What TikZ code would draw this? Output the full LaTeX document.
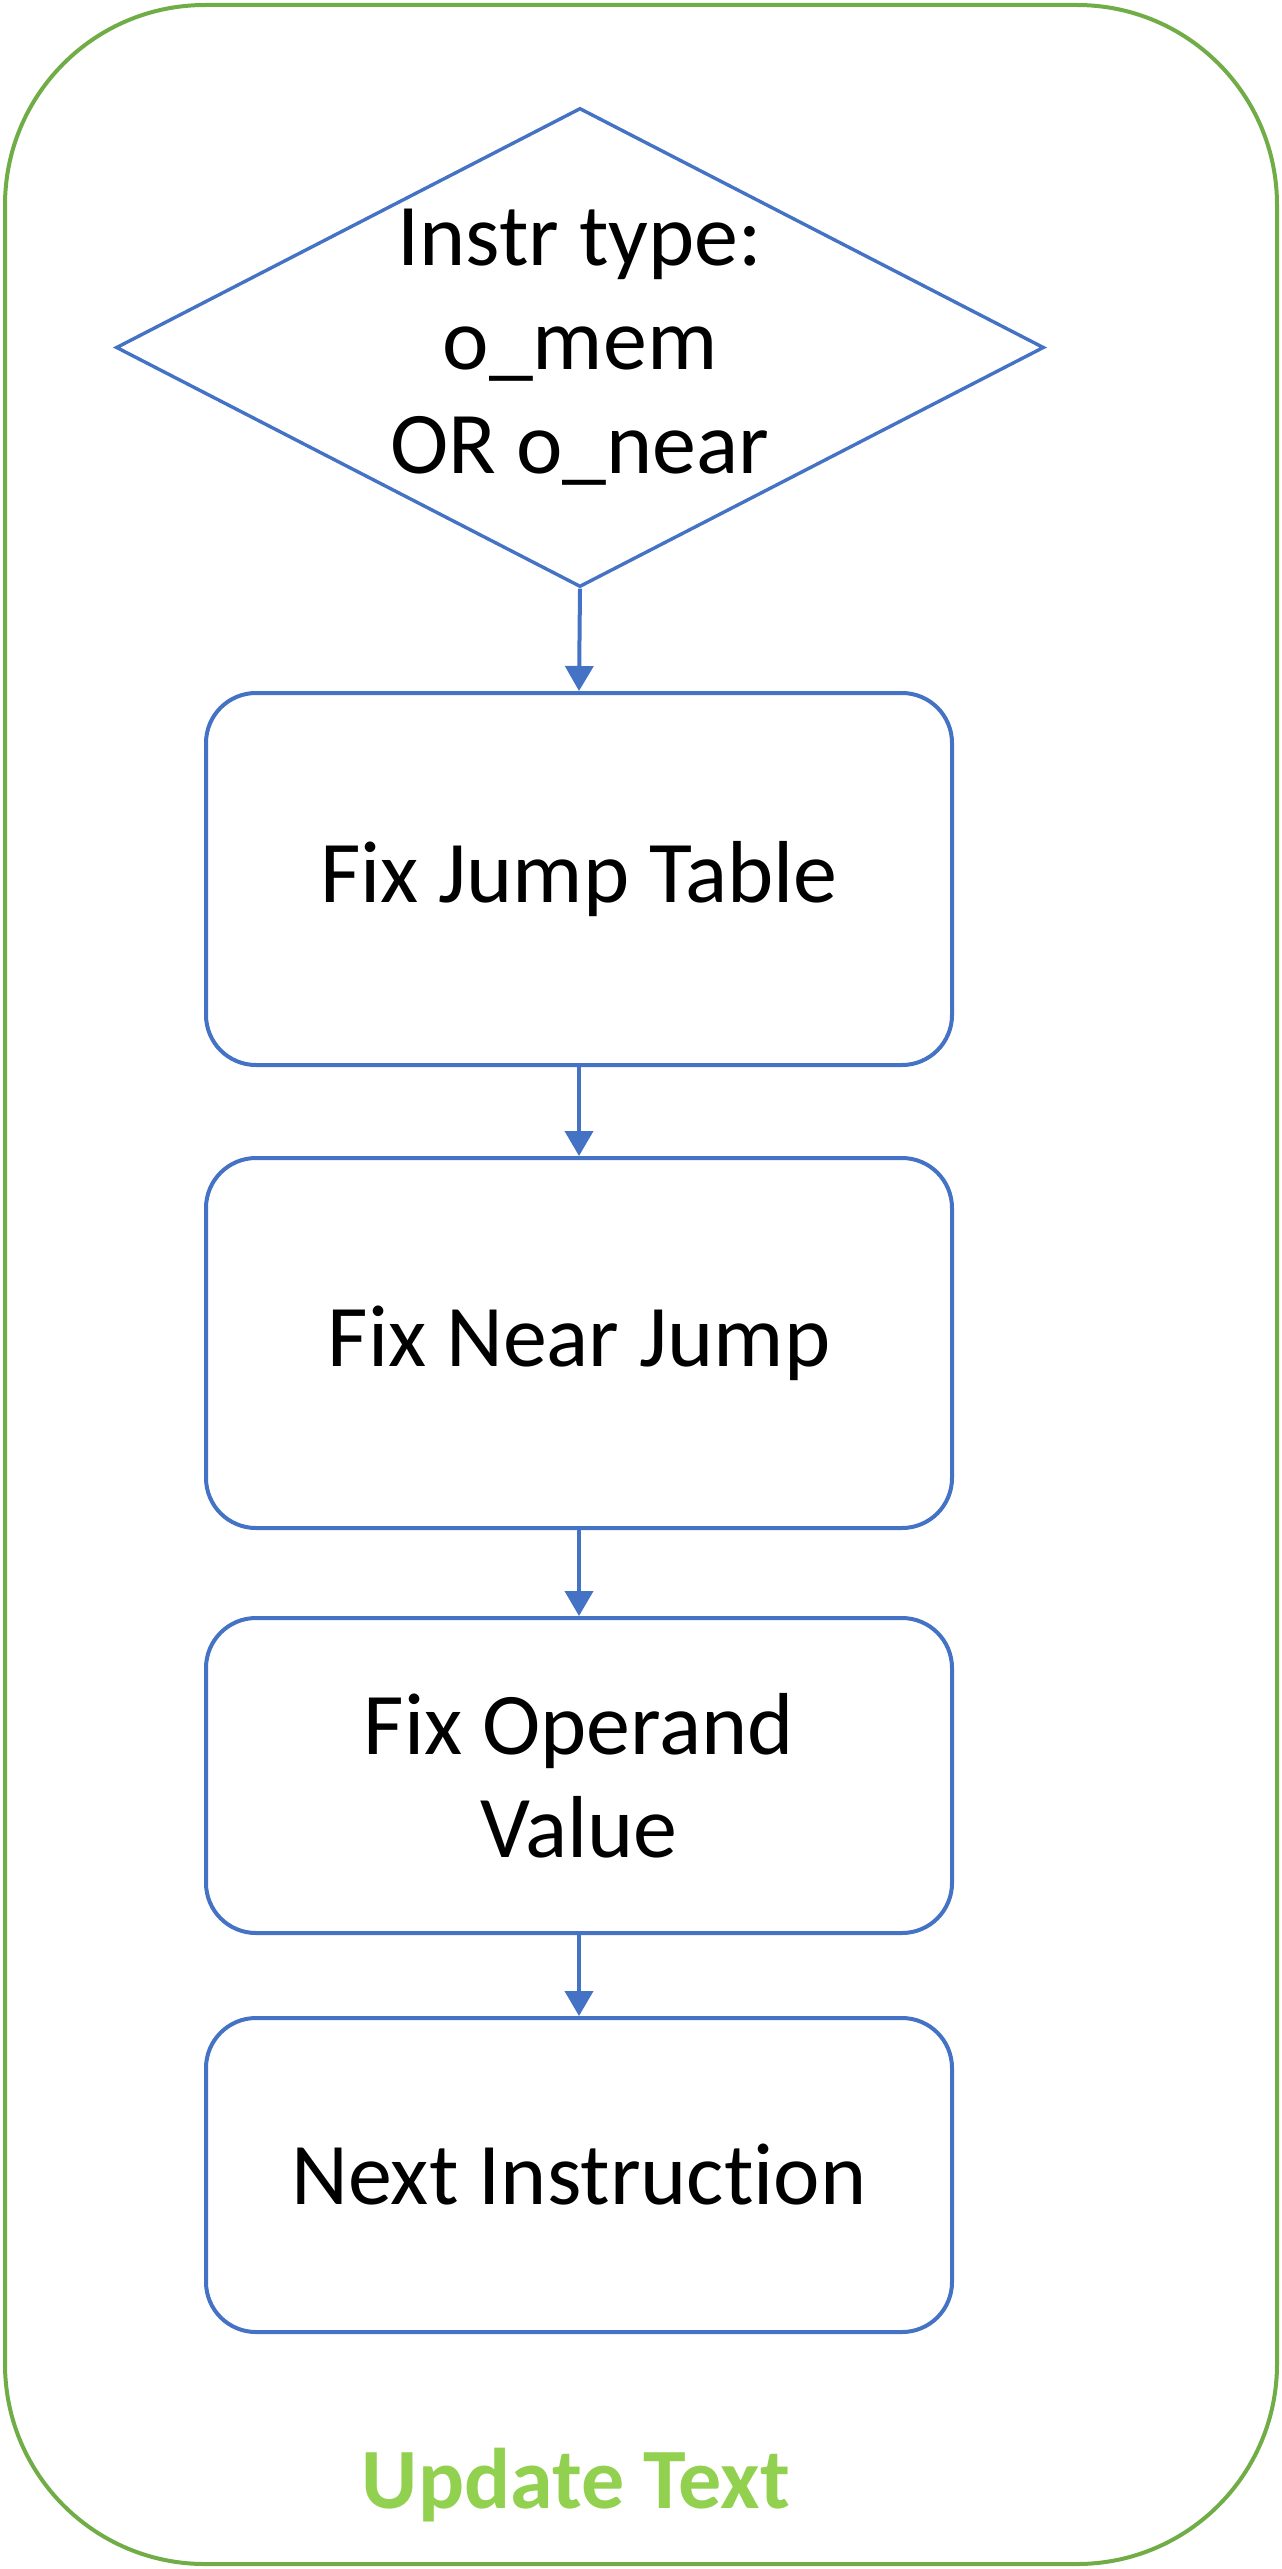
\documentclass[tikz,border=0pt]{standalone}
\usepackage{fontspec}
\setmainfont[RawFeature={-liga}]{Carlito}
\usetikzlibrary{shapes.geometric,arrows.meta}
\definecolor{boxblue}{HTML}{4472C4}
\definecolor{framegreen}{HTML}{70AD47}
\definecolor{labelgreen}{HTML}{92D050}
\tikzset{
  stepbox/.style={draw=boxblue, line width=2pt, rounded corners=25pt, minimum width=373pt,
    align=center, inner sep=0pt, font=\fontsize{44pt}{51.5pt}\selectfont},
  decision/.style={draw=boxblue, line width=1.7pt, diamond, aspect=1.94, minimum width=464pt,
    minimum height=239.5pt, inner sep=0pt, align=center, font=\fontsize{44pt}{52pt}\selectfont},
  flow/.style={draw=boxblue, line width=2pt, -{Triangle[width=14pt,length=12.5pt]}},
  framebox/.style={draw=framegreen, line width=2pt, rounded corners=100pt, minimum width=636pt, minimum height=1279.5pt, inner sep=0pt},
  framelabel/.style={text=labelgreen, font=\fontsize{43pt}{50pt}\selectfont\bfseries, anchor=base}
}
\begin{document}
\begin{tikzpicture}[x=0.5pt,y=-0.5pt]
\useasboundingbox (0,0) rectangle (1281,2569);
\node[framebox] (frame) at (641,1284.5) {};
\node[decision] (d) at (580,347.5) {Instr type:\\o\_mem\\OR o\_near};
\node[stepbox, minimum height=186pt] (b1) at (579,879) {Fix Jump Table};
\node[stepbox, minimum height=185pt] (b2) at (579,1343) {Fix Near Jump};
\node[stepbox, minimum height=157.5pt] (b3) at (579,1775.5) {Fix Operand\\Value};
\node[stepbox, minimum height=157pt] (b4) at (579,2175) {Next Instruction};
\node[framelabel] (lbl) at (576,2508) {Update Text};
\draw[flow] (d.south) -- (b1.north);
\draw[flow] (b1.south) -- (b2.north);
\draw[flow] (b2.south) -- (b3.north);
\draw[flow] (b3.south) -- (b4.north);
\end{tikzpicture}
\end{document}
